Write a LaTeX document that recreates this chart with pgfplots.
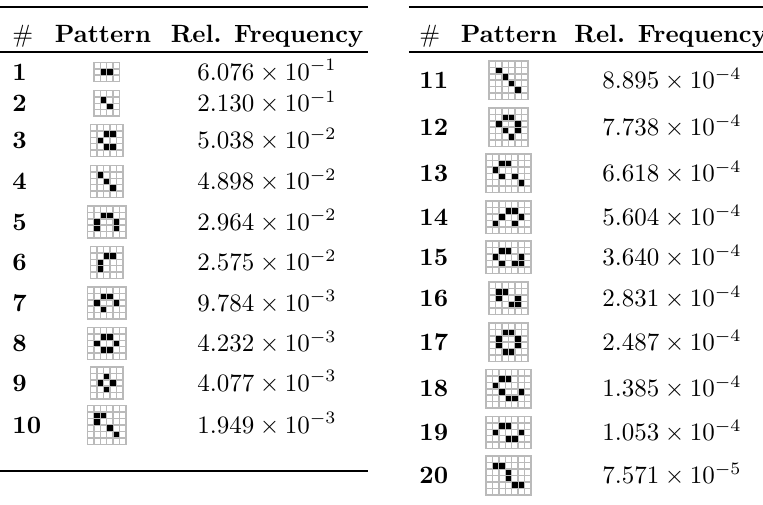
\documentclass[border=0pt]{standalone}
\usepackage{pgfplots}
\pgfplotsset{compat=1.18}
% 1 px of the reference = 0.4pt
\newcommand{\pat}[5]{%
\begin{axis}[at={(#1*0.4pt,-#2*0.4pt)}, anchor=center, scale only axis,
  width=#3*2.57pt, height=#4*2.57pt, xmin=0, xmax=#3, ymin=0, ymax=#4, y dir=reverse,
  xtick={0,...,#3}, ytick={0,...,#4}, grid=major,
  grid style={black!27, line width=0.6pt}, axis line style={black!27, line width=0.6pt},
  xticklabels={}, yticklabels={}, major tick length=0pt,
  x filter/.expression={x+0.5}, y filter/.expression={y+0.5}]
\addplot[only marks, mark=square*, mark size=0.9pt, mark options={draw=none, fill=black}] coordinates {#5};
\end{axis}}
\newcommand{\pp}[2]{(#1*0.4pt,-#2*0.4pt)}
\begin{document}
\begin{tikzpicture}[every node/.style={inner sep=0pt}]
\begin{axis}[at={(0,0)}, anchor=north west, scale only axis, width=305.2pt, height=201.6pt,
  xmin=0, xmax=763, ymin=0, ymax=504, y dir=reverse, hide axis, clip=false]
% rules
\addplot[black, line width=0.8pt] coordinates {(0,7) (368,7)};
\addplot[black, line width=0.5pt] coordinates {(0,52) (368,52)};
\addplot[black, line width=0.8pt] coordinates {(0,471) (368,471)};
\addplot[black, line width=0.8pt] coordinates {(409,7) (763,7)};
\addplot[black, line width=0.5pt] coordinates {(409,52) (763,52)};
\end{axis}
% headers
\node[anchor=base west] at \pp{12}{42} {\#};
\node[anchor=base] at \pp{103}{42} {\textbf{Pattern}};
\node[anchor=base] at \pp{267}{42} {\textbf{Rel. Frequency}};
\node[anchor=base west] at \pp{419}{42} {\#};
\node[anchor=base] at \pp{509}{42} {\textbf{Pattern}};
\node[anchor=base west] at \pp{574}{42} {\textbf{Rel. Frequency}};
% left rows
\foreach \n/\y/\v in {1/72/{6.076\times10^{-1}},2/103.3/{2.130\times10^{-1}},3/140.5/{5.038\times10^{-2}},
  4/181.5/{4.898\times10^{-2}},5/222/{2.964\times10^{-2}},6/262.5/{2.575\times10^{-2}},
  7/303/{9.784\times10^{-3}},8/343.5/{4.232\times10^{-3}},9/383/{4.077\times10^{-3}},10/425/{1.949\times10^{-3}}}{
  \node[anchor=base west] at ({12*0.4pt},{-(\y+8)*0.4pt}) {\textbf{\n}};
  \node[anchor=base] at ({267*0.4pt},{-(\y+8)*0.4pt}) {$\v$};
}
\foreach \n/\y/\v in {11/80.2/{8.895\times10^{-4}},12/127.2/{7.738\times10^{-4}},13/173.3/{6.618\times10^{-4}},
  14/217.2/{5.604\times10^{-4}},15/257.2/{3.640\times10^{-4}},16/298.3/{2.831\times10^{-4}},
  17/342.2/{2.487\times10^{-4}},18/388.8/{1.385\times10^{-4}},19/432.5/{1.053\times10^{-4}},20/475.5/{7.571\times10^{-5}}}{
  \node[anchor=base west] at ({419*0.4pt},{-(\y+8)*0.4pt}) {\textbf{\n}};
  \node[anchor=base] at ({672*0.4pt},{-(\y+8)*0.4pt}) {$\v$};
}
% patterns (left)
\pat{106.7}{72}{4}{3}{(1,1) (2,1)}
\pat{106.7}{103.3}{4}{4}{(1,1) (2,2)}
\pat{106.7}{140.5}{5}{5}{(2,1) (3,1) (1,2) (2,3) (3,3)}
\pat{106.7}{181.5}{5}{5}{(1,1) (2,2) (3,3)}
\pat{106.7}{222}{6}{5}{(2,1) (3,1) (1,2) (4,2) (1,3) (4,3)}
\pat{106.7}{262.5}{5}{5}{(2,1) (3,1) (1,2) (1,3)}
\pat{106.7}{303}{6}{5}{(2,1) (3,1) (1,2) (4,2) (2,3)}
\pat{106.7}{343.5}{6}{5}{(2,1) (3,1) (1,2) (4,2) (2,3) (3,3)}
\pat{106.7}{383}{5}{5}{(2,1) (1,2) (3,2) (2,3)}
\pat{106.7}{425}{6}{6}{(1,1) (2,1) (1,2) (3,3) (4,4)}
% patterns (right)
\pat{508.5}{80.2}{6}{6}{(1,1) (2,2) (3,3) (4,4)}
\pat{508.5}{127.2}{6}{6}{(2,1) (3,1) (1,2) (4,2) (2,3) (4,3) (3,4)}
\pat{508.5}{173.3}{7}{6}{(2,1) (3,1) (1,2) (2,3) (4,3) (5,4)}
\pat{508.5}{217.2}{7}{5}{(3,1) (4,1) (2,2) (5,2) (1,3) (4,3)}
\pat{508.5}{257.2}{7}{5}{(2,1) (3,1) (1,2) (5,2) (2,3) (4,3) (5,3)}
\pat{508.5}{298.3}{6}{5}{(1,1) (2,1) (1,2) (4,2) (3,3) (4,3)}
\pat{508.5}{342.2}{6}{6}{(2,1) (3,1) (1,2) (4,2) (1,3) (4,3) (2,4) (3,4)}
\pat{508.5}{388.8}{7}{6}{(2,1) (3,1) (1,2) (2,3) (5,3) (3,4) (4,4)}
\pat{508.5}{432.5}{7}{5}{(2,1) (3,1) (1,2) (5,2) (3,3) (4,3)}
\pat{508.5}{475.5}{7}{6}{(1,1) (2,1) (3,2) (3,3) (4,4) (5,4)}
\pgfresetboundingbox
\path[use as bounding box] (0,0) rectangle (305.2pt,-201.6pt);
\end{tikzpicture}
\end{document}
